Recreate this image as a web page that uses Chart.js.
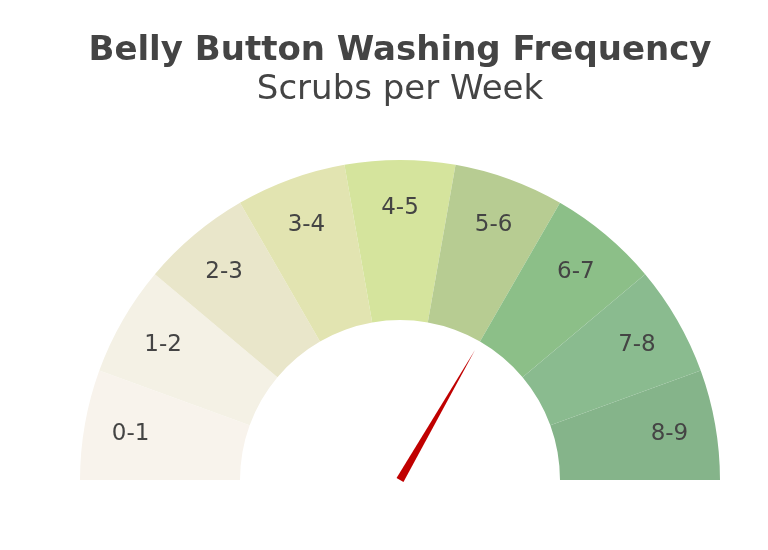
<!DOCTYPE html>
<html>
<head>
<meta charset="utf-8">
<title>Belly Button Washing Frequency</title>
<script src="https://cdn.jsdelivr.net/npm/chart.js@4"></script>
<style>
    html, body { margin: 0; padding: 0; background: #fff; }
    #wrap { width: 768px; height: 550px; }
</style>
</head>
<body>
<div id="wrap"><canvas id="gaugeChart" width="768" height="550"></canvas></div>
<script>
// Gauge data
const scrubRanges = ['0-1', '1-2', '2-3', '3-4', '4-5', '5-6', '6-7', '7-8', '8-9'];
const segmentSizes = [1, 1, 1, 1, 1, 1, 1, 1, 1];
const segmentColors = ['#F8F3EC', '#F4F1E5', '#E9E6CA', '#E2E4B1', '#D5E49D',
                       '#B7CC92', '#8CBF88', '#8ABB8F', '#85B48A'];
const washFrequency = [6];

const FONT = '"DejaVu Sans", Verdana, sans-serif';
const TEXT_COLOR = '#444';

// Labels inside each segment
const segmentLabels = {
    id: 'segmentLabels',
    afterDatasetsDraw(chart) {
        const ctx = chart.ctx;
        const meta = chart.getDatasetMeta(0);
        ctx.save();
        ctx.font = '23px ' + FONT;
        ctx.fillStyle = TEXT_COLOR;
        ctx.textAlign = 'center';
        ctx.textBaseline = 'middle';
        meta.data.forEach((arc, i) => {
            const mid = (arc.startAngle + arc.endAngle) / 2;
            const r = arc.innerRadius + 0.71 * (arc.outerRadius - arc.innerRadius);
            ctx.fillText(scrubRanges[i], arc.x + Math.cos(mid) * r, arc.y + Math.sin(mid) * r + 2);
        });
        ctx.restore();
    }
};

// Needle pointing at the washing frequency
const gaugeNeedle = {
    id: 'gaugeNeedle',
    afterDatasetsDraw(chart) {
        const ctx = chart.ctx;
        const meta = chart.getDatasetMeta(0);
        const first = meta.data[0];
        const value = washFrequency[0];
        const idx = Math.min(Math.floor(value), meta.data.length - 1);
        const arc = meta.data[idx];
        const angle = arc.startAngle + (value - idx) * (arc.endAngle - arc.startAngle);
        const len = first.innerRadius - 10;
        const cx = first.x, cy = first.y;
        const px = -Math.sin(angle) * 4, py = Math.cos(angle) * 4;
        ctx.save();
        ctx.beginPath();
        ctx.moveTo(cx + px, cy + py);
        ctx.lineTo(cx + Math.cos(angle) * len, cy + Math.sin(angle) * len);
        ctx.lineTo(cx - px, cy - py);
        ctx.closePath();
        ctx.fillStyle = '#c00000';
        ctx.fill();
        ctx.restore();
    }
};

new Chart(document.getElementById('gaugeChart'), {
    type: 'doughnut',
    data: {
        labels: scrubRanges,
        datasets: [{
            data: segmentSizes,
            backgroundColor: segmentColors,
            borderWidth: 0,
            hoverOffset: 0
        }]
    },
    options: {
        responsive: false,
        animation: false,
        rotation: -90,
        circumference: 180,
        cutout: '50%',
        layout: {
            padding: { top: 20, left: 80, right: 48, bottom: 70 }
        },
        plugins: {
            legend: { display: false },
            tooltip: { enabled: false },
            title: {
                display: true,
                text: 'Belly Button Washing Frequency',
                color: TEXT_COLOR,
                font: { family: FONT, size: 34, weight: 'bold', lineHeight: 1 },
                padding: { top: 14, bottom: 2 }
            },
            subtitle: {
                display: true,
                text: 'Scrubs per Week',
                color: TEXT_COLOR,
                font: { family: FONT, size: 34, weight: 'normal', lineHeight: 1 },
                padding: { top: 3, bottom: 53 }
            }
        }
    },
    plugins: [segmentLabels, gaugeNeedle]
});
</script>
</body>
</html>
